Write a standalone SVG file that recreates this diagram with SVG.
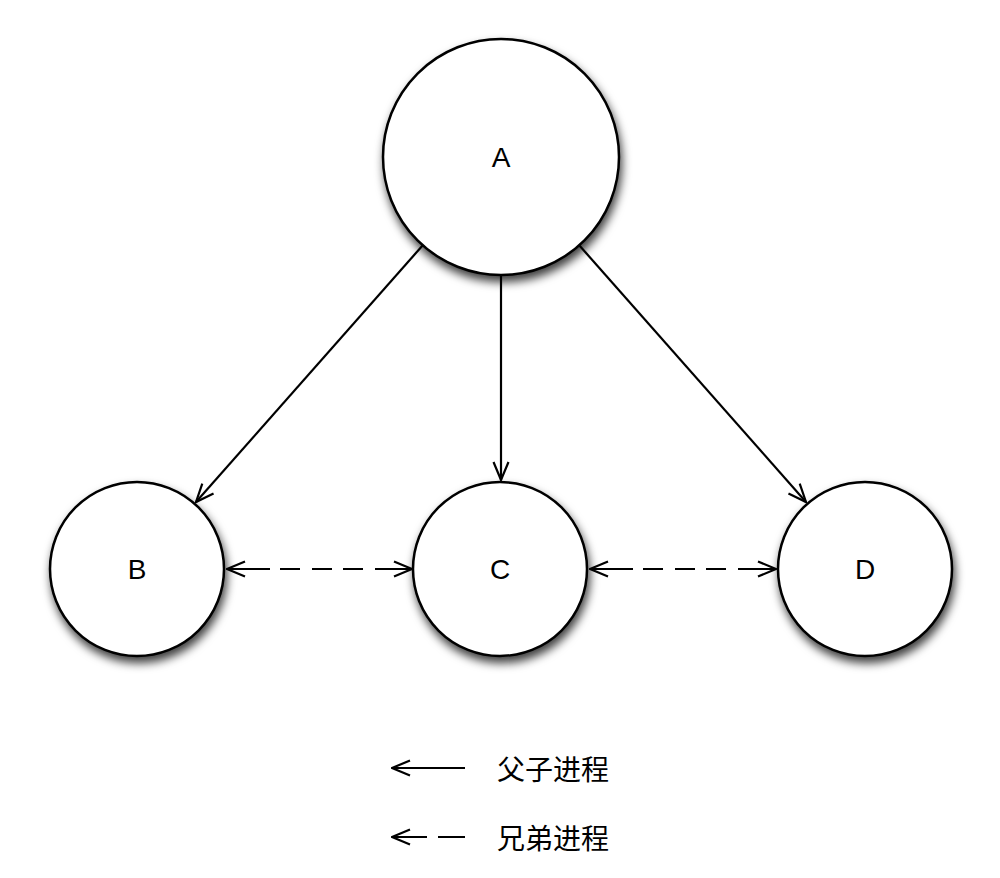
<svg xmlns="http://www.w3.org/2000/svg" width="1000" height="878" viewBox="0 0 1000 878">
  <style>
    .node { fill: #ffffff; stroke: #000000; stroke-width: 2.5; filter: url(#shadow); }
    .label { font-family: "Liberation Sans", Arial, sans-serif; font-size: 28px; fill: #000000; text-anchor: middle; dominant-baseline: central; }
    .legend { font-family: "Noto Sans CJK SC", "Noto Sans", sans-serif; font-size: 28px; fill: #000000; dominant-baseline: central; }
    .edge { fill: none; stroke: #000000; stroke-width: 2.2; }
  </style>
  <defs>
    <filter id="shadow" x="-20%" y="-20%" width="150%" height="150%">
      <feDropShadow dx="2" dy="6" stdDeviation="5" flood-color="#000000" flood-opacity="0.75"/>
    </filter>
    <marker id="arrow" viewBox="0 0 20 18" refX="19" refY="9" markerWidth="20" markerHeight="18" markerUnits="userSpaceOnUse" orient="auto-start-reverse">
      <path d="M1,1.5 L19,9 L1,16.5" fill="none" stroke="#000000" stroke-width="2.2"/>
    </marker>
  </defs>

  <g id="node-A">
    <circle class="node" cx="501" cy="157" r="118"/>
    <text class="label" x="501" y="157">A</text>
  </g>
  <g id="node-B">
    <circle class="node" cx="137" cy="569" r="87"/>
    <text class="label" x="137" y="569">B</text>
  </g>
  <g id="node-C">
    <circle class="node" cx="500" cy="569" r="87"/>
    <text class="label" x="500" y="569">C</text>
  </g>
  <g id="node-D">
    <circle class="node" cx="865" cy="569" r="87"/>
    <text class="label" x="865" y="569">D</text>
  </g>

  <g id="connectors">
    <line class="edge" x1="423" y1="245" x2="196" y2="502" marker-end="url(#arrow)"/>
    <line class="edge" x1="501" y1="275" x2="501" y2="480" marker-end="url(#arrow)"/>
    <line class="edge" x1="579" y1="245" x2="806" y2="502" marker-end="url(#arrow)"/>
    <line class="edge" x1="227" y1="569" x2="412" y2="569" marker-start="url(#arrow)" marker-end="url(#arrow)" stroke-dasharray="43 10 20 12 20 11 20 12 40"/>
    <line class="edge" x1="590" y1="569" x2="776" y2="569" marker-start="url(#arrow)" marker-end="url(#arrow)" stroke-dasharray="43 10 20 12 20 11 20 12 40"/>
  </g>

  <g id="legend">
    <line class="edge" x1="465" y1="768" x2="392" y2="768" marker-end="url(#arrow)"/>
    <text class="legend" x="497" y="768">父子进程</text>
    <line class="edge" x1="465" y1="837" x2="392" y2="837" marker-end="url(#arrow)" stroke-dasharray="27 11 40"/>
    <text class="legend" x="497" y="837">兄弟进程</text>
  </g>
</svg>
